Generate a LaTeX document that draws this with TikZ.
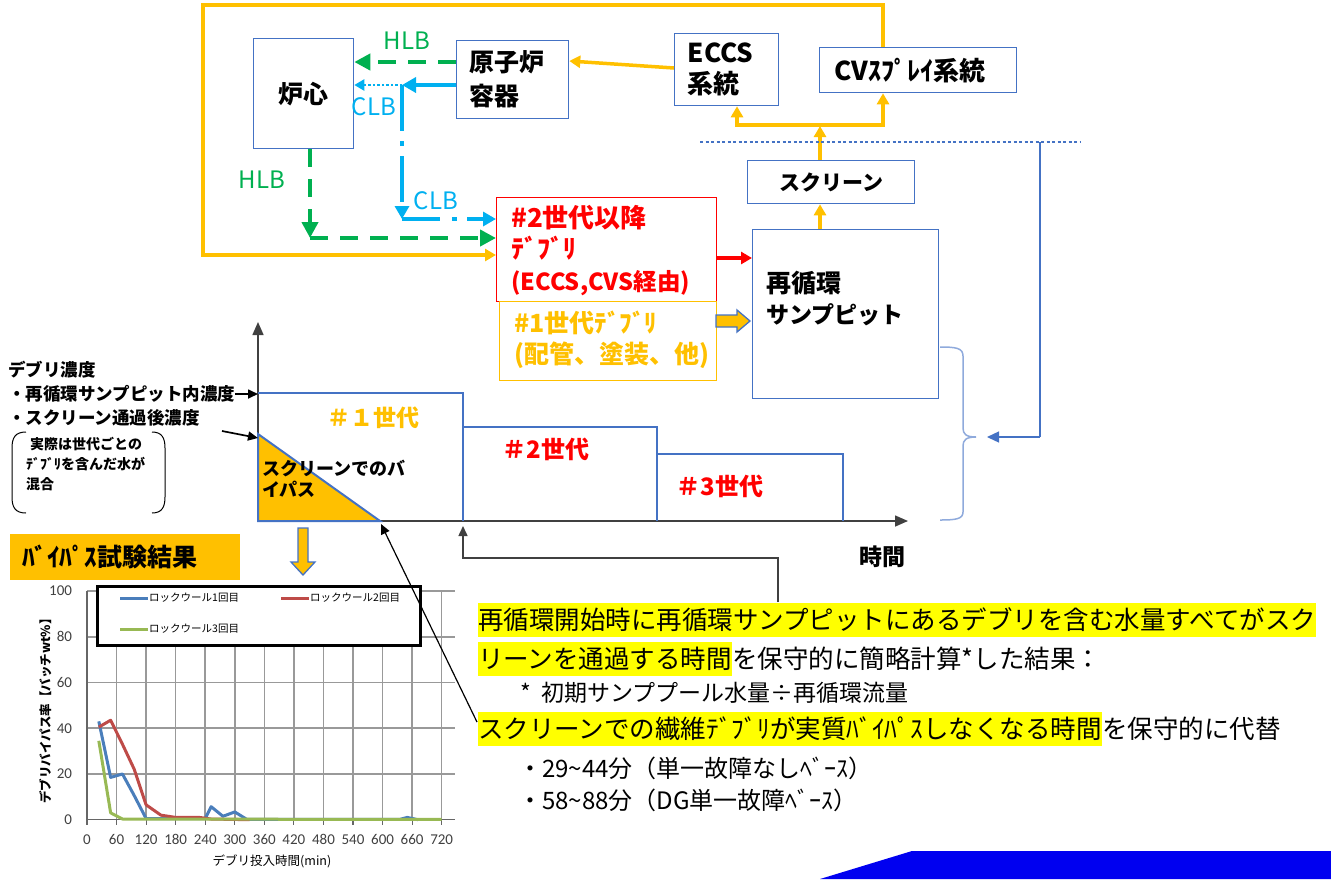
\documentclass[tikz,border=0pt]{standalone}
\usepackage{fontspec}
\setmainfont{Noto Sans CJK JP}
\newfontfamily\calfont{Carlito}
\usetikzlibrary{arrows.meta}
\newcommand\fsz[2]{\fontsize{#1}{#2}\selectfont}
\definecolor{obox}{HTML}{4472C4}
\definecolor{lbox}{HTML}{8FAADC}
\definecolor{og}{HTML}{FFC000}
\definecolor{gr}{HTML}{00B050}
\definecolor{cy}{HTML}{00B0F0}
\definecolor{rd}{HTML}{FF0000}
\definecolor{hl}{HTML}{FFFF00}
\definecolor{bb}{HTML}{0000F0}
\definecolor{s1c}{HTML}{4A7EBB}
\definecolor{s2c}{HTML}{BE4B48}
\definecolor{s3c}{HTML}{98B954}
\definecolor{gridc}{HTML}{999999}
\definecolor{txg}{HTML}{404040}
\begin{document}
\begin{tikzpicture}[x=1pt,y=-1pt,
 box/.style={draw=obox,line width=1.3pt,inner sep=0pt},
 gline/.style={draw=gr,line width=4.2pt,dash pattern=on 18pt off 12pt,-{Triangle[length=16pt,width=16pt]}},
 cline/.style={draw=cy,line width=4pt,-{Triangle[length=14pt,width=15pt]}},
 oline/.style={draw=og,line width=3.5pt,-{Triangle[length=11pt,width=12pt]}},
 thinarr/.style={draw=black,line width=1.2pt,-{Triangle[length=10pt,width=9pt]}},
 axisarr/.style={draw=txg,line width=1.5pt,-{Triangle[length=13pt,width=11pt]}},
 stepl/.style={draw=obox,line width=2pt},
 lbl/.style={inner sep=0pt},
 hlnode/.style={fill=hl,inner xsep=0pt,inner ysep=5pt,anchor=west,font=\fsz{25.5}{30}},
 plnode/.style={inner xsep=0pt,inner ysep=5pt,anchor=west,font=\fsz{25.5}{30}},
 ser/.style={line width=3pt,line join=round}
]
\useasboundingbox (0,0) rectangle (1331,879);

% ---------- top flow boxes ----------
\node[box,anchor=north west,minimum width=100pt,minimum height=110pt,font=\bfseries\fsz{25}{30}] (core) at (253,38) {炉心};
\node[box,anchor=north west,text width=86pt,inner xsep=13pt,minimum height=78pt,align=left,font=\bfseries\fsz{25}{34}] (rpv) at (456,40) {原子炉\\容器};
\node[box,anchor=north west,text width=78pt,inner xsep=13pt,minimum height=72pt,align=left,font=\bfseries\fsz{26}{31}] (eccs) at (674,33) {ECCS\\系統};
\node[box,anchor=north west,text width=167pt,inner xsep=15pt,minimum height=45pt,align=left,font=\bfseries\fsz{26}{28}] (cvs) at (819,47) {CVｽﾌﾟﾚｲ系統};
\node[box,anchor=north west,minimum width=167pt,minimum height=43pt,font=\bfseries\fsz{21}{25}] (scr) at (747,160) {スクリーン};
\node[box,anchor=north west,minimum width=186pt,minimum height=169pt] (sump) at (752,229) {};
\node[lbl,anchor=north west,align=left,font=\bfseries\fsz{23}{31}] (sumpT) at (766,271) {\fsz{25}{31}再循環\\サンプピット};
\node[draw=rd,line width=1.4pt,anchor=north west,minimum width=220pt,minimum height=104pt,inner sep=0pt] (gen2) at (496,197) {};
\node[lbl,anchor=north west,align=left,text=rd,font=\bfseries\fsz{23.5}{31.5}] (gen2T) at (511,205) {\fsz{26}{31.5}\#2世代以降\\\fsz{26}{31.5}ﾃﾞﾌﾞﾘ\\(ECCS,CVS経由)};
\node[draw=og,line width=1.4pt,anchor=north west,minimum width=217pt,minimum height=79pt,inner sep=0pt] (gen1) at (499,301) {};
\node[lbl,anchor=north west,align=left,text=og,font=\bfseries\fsz{25}{31}] (gen1T) at (514,311) {\#1世代ﾃﾞﾌﾞﾘ\\(配管、塗装、他)};

% ---------- top flow connectors ----------
\draw[gline] (rpv.west |- 0,62) -- (core.east |- 0,62);
\node[lbl,text=gr,font=\fsz{24}{28}] (hlb1) at (407,41) {HLB};
\coordinate (jn) at (402,85);
\draw[cline] (rpv.west |- 0,85) -- (jn);
\draw[draw=cy,line width=2.4pt,dash pattern=on 2.5pt off 2pt,-{Triangle[length=10pt,width=11pt]}] (jn) -- (core.east |- jn);
\node[lbl,text=cy,font=\fsz{24}{28}] (clb1) at (374,107) {CLB};
\coordinate (jc) at (402,219);
\draw[draw=cy,line width=4pt,dash pattern=on 46pt off 10pt on 5pt off 10pt,-{Triangle[length=13pt,width=14pt]}] (jn) -- (jc);
\draw[draw=cy,line width=4pt,dash pattern=on 38pt off 12pt on 5pt off 10pt,-{Triangle[length=13pt,width=14pt]}] (jc) -- (gen2.west |- jc);
\node[lbl,text=cy,font=\fsz{24}{28}] (clb2) at (436,201) {CLB};
\coordinate (hc) at (310,238);
\draw[gline] (core.south -| hc) -- (hc);
\draw[gline] (hc) -- (gen2.west |- hc);
\node[lbl,text=gr,font=\fsz{24}{28}] (hlb2) at (262,180) {HLB};

\draw[oline] (eccs.west |- 0,68) -- (rpv.east |- 0,61);
\draw[oline] (cvs.north -| 883,0) -- (883,5) -- (203,5) -- (203,255) -- (gen2.west |- 0,255);
\draw[oline] (scr.north -| 820,0) -- (820,126);
\draw[oline,{Triangle[length=11pt,width=12pt]}-{Triangle[length=11pt,width=12pt]}] (eccs.south -| 737,0) -- (737,125) -- (883,125) -- (cvs.south -| 883,0);
\draw[oline] (sump.north -| 820,0) -- (scr.south -| 820,0);
\draw[draw=rd,line width=3.5pt,-{Triangle[length=11pt,width=12pt]}] (gen2.east |- 0,258) -- (sump.west |- 0,258);
% block arrow gen1 -> sump
\filldraw[fill=og,draw=obox,line width=1.3pt] (716,315) -- (737,315) -- (737,310) -- (750,321) -- (737,332) -- (737,327) -- (716,327) -- cycle;

% dotted separator and right feedback
\draw[draw=obox,line width=1.1pt,dash pattern=on 3pt off 2.5pt] (700,142) -- (1080,142);
\coordinate (fb) at (1040,142);
\coordinate (fbb) at (1040,437);
\draw[draw=obox,line width=1.7pt] (fb) -- (fbb);
\draw[draw=obox,line width=1.3pt,-{Triangle[length=12pt,width=11pt]}] (fbb) -- (987,437);
\draw[draw=lbox,line width=1.5pt] (940,347) .. controls (956,347) and (963,348) .. (963,356) -- (963,428) .. controls (963,434) and (966,437) .. (976,437) .. controls (966,437) and (963,440) .. (963,446) -- (963,512) .. controls (963,519) and (956,520) .. (940,520);

% ---------- concentration graph ----------
\coordinate (org) at (258,521);
\draw[axisarr] (org) -- (258,322);
\draw[axisarr] (org) -- (908,521);
\filldraw[fill=og,draw=obox,line width=2pt] (258,434) -- (org) -- (380,521) -- cycle;
\draw[stepl] (258,393) -- (463,393) -- (463,521);
\draw[stepl] (463,427) -- (657,427) -- (657,521);
\draw[stepl] (657,454) -- (843,454) -- (843,521);
\node[lbl,text=og,font=\bfseries\fsz{23}{28}] (g1) at (373,418) {＃１世代};
\node[lbl,text=rd,font=\bfseries\fsz{24}{28}] (g2) at (546,449) {＃2世代};
\node[lbl,text=rd,font=\bfseries\fsz{24}{28}] (g3) at (720,486) {＃3世代};
\node[lbl,anchor=north west,align=left,font=\bfseries\fsz{18}{21}] (byp) at (262,460) {スクリーンでのバ\\イパス};
\node[lbl,font=\bfseries\fsz{23}{28}] (time) at (882,557) {時間};

\node[lbl,anchor=west,font=\bfseries\fsz{17.5}{21}] (lt1) at (8,370) {デブリ濃度};
\node[lbl,anchor=west,font=\bfseries\fsz{17.5}{21}] (lt2) at (8,394) {・再循環サンプピット内濃度};
\node[lbl,anchor=west,font=\bfseries\fsz{17.5}{21}] (lt3) at (8,418) {・スクリーン通過後濃度};
\draw[thinarr,line width=1.7pt] (lt2.east) -- (258,394);
\draw[thinarr,line width=1.7pt] (222,431) -- (258,438);
\node[lbl,anchor=north west,align=left,font=\bfseries\fsz{14}{20}] (mix) at (26,437) {\hspace{4pt}実際は世代ごとの\\ﾃﾞﾌﾞﾘを含んだ水が\\混合};
\draw[line width=1pt] (26,432) .. controls (15,432) and (12,438) .. (12,448) -- (12,497) .. controls (12,507) and (15,513) .. (26,513);
\draw[line width=1pt] (152,432) .. controls (162,432) and (165,438) .. (165,448) -- (165,497) .. controls (165,507) and (162,513) .. (152,513);

\node[fill=og,anchor=north west,minimum width=230pt,minimum height=46pt,inner sep=0pt] (bt) at (10,534) {};
\node[lbl,anchor=west,font=\bfseries\fsz{25}{30}] (btT) at (22,557) {ﾊﾞｲﾊﾟｽ試験結果};
\filldraw[fill=og,draw=obox,line width=1.3pt] (298,528) -- (308,528) -- (308,562) -- (315,562) -- (303,575) -- (291,562) -- (298,562) -- cycle;

% ---------- test chart ----------
\begin{scope}[shift={(87,819.7)},x=0.4926pt,y=2.287pt]
 \foreach \tm in {0,60,...,720} \draw[gridc,line width=1.5pt] (\tm,0) -- (\tm,100);
 \foreach \vv in {20,40,...,100} \draw[gridc,line width=1.5pt] (0,\vv) -- (747,\vv);
 \draw[txg!80,line width=1.5pt] (0,0) -- (747,0);
 \draw[txg!80,line width=1.5pt] (0,0) -- (0,100);
 \foreach \tm in {0,60,...,720} {\draw[txg!80,line width=1.2pt] (\tm,0) -- (\tm,-2.2);
   \node[lbl,text=txg,font=\calfont\fsz{15}{18}] (xl\tm) at (\tm,-8.6) {\tm};}
 \foreach \vv in {0,20,...,100} \node[lbl,anchor=east,text=txg,font=\calfont\fsz{15}{18}] (yl\vv) at (-30,\vv) {\vv};
 \draw[ser,s1c] plot coordinates {(24,43) (48,18.5) (72,20) (96,10.5) (120,0.5) (240,0.5) (252,5.7) (276,1.5) (300,3.4) (324,0.2) (636,0.2) (650,1) (672,0)};
 \draw[ser,s2c] plot coordinates {(24,40.5) (48,43.5) (72,33) (96,22) (120,6.5) (150,2) (180,1) (228,1) (252,0.3) (330,0)};
 \draw[ser,s3c] plot coordinates {(24,34.5) (48,3) (72,0.3) (720,0.1)};
\end{scope}
\node[lbl,rotate=90,font=\bfseries\fsz{12.5}{15}] (ytitle) at (46,708) {デブリバイパス率【バッチwt\%】};
\node[lbl,font=\fsz{12.5}{15}] (xtitle) at (272,861) {デブリ投入時間(min)};
\node[draw=black,line width=3.2pt,fill=white,anchor=north west,minimum width=323pt,minimum height=59pt,inner sep=0pt] (leg) at (96,585) {};
\draw[ser,s1c] (120,598) -- (148,598);
\node[lbl,anchor=west,font=\fsz{10.5}{13}] (lg1) at (149,598) {ロックウール1回目};
\draw[ser,s2c] (281,598) -- (309,598);
\node[lbl,anchor=west,font=\fsz{10.5}{13}] (lg2) at (310,598) {ロックウール2回目};
\draw[ser,s3c] (120,629) -- (148,629);
\node[lbl,anchor=west,font=\fsz{10.5}{13}] (lg3) at (149,629) {ロックウール3回目};

% ---------- explanation text ----------
\node[hlnode] (l1) at (478,620) {再循環開始時に再循環サンプピットにあるデブリを含む水量すべてがスク};
\node[hlnode] (l2a) at (478,659) {リーンを通過する時間};
\node[plnode] (l2b) at (l2a.east) {を保守的に簡略計算*した結果：};
\node[lbl,anchor=west,font=\fsz{23}{27}] (l3) at (520,693) {*\ \ 初期サンププール水量÷再循環流量};
\node[hlnode] (l4a) at (478,729) {スクリーンでの繊維ﾃﾞﾌﾞﾘが実質ﾊﾞｲﾊﾟｽしなくなる時間};
\node[plnode] (l4b) at (l4a.east) {を保守的に代替};
\node[lbl,anchor=west,font=\fsz{24}{28}] (l5) at (518,768) {・29\textasciitilde 44分（単一故障なしﾍﾞｰｽ）};
\node[lbl,anchor=west,font=\fsz{24}{28}] (l6) at (518,800) {・58\textasciitilde 88分（DG単一故障ﾍﾞｰｽ）};

\coordinate (pa) at (477,722);
\draw[thinarr] (pa) -- (381,524);
\coordinate (pb) at (778,602);
\draw[thinarr,draw=txg,line width=1.5pt] (pb) -- (778,558) -- (463,558) -- (463,526);

\fill[bb] (820,879) -- (912,851) -- (1331,851) -- (1331,879) -- cycle;
\end{tikzpicture}
\end{document}
